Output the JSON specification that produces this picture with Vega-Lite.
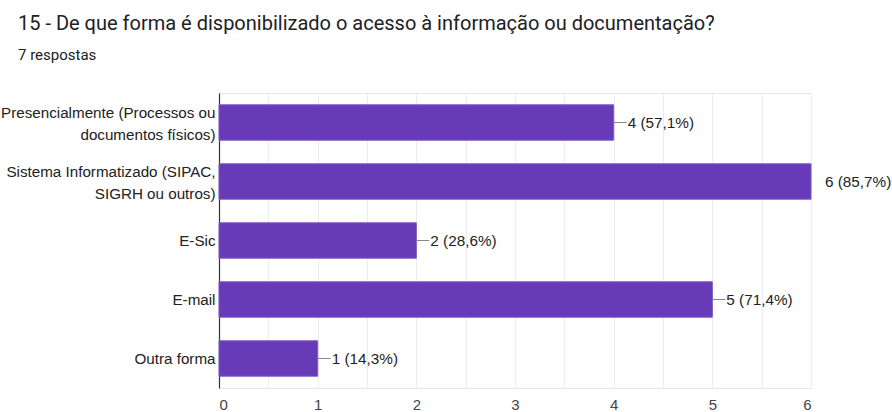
{
  "$schema": "https://vega.github.io/schema/vega-lite/v6.json",
  "autosize": {"type": "none"},
  "width": 592,
  "height": 295,
  "padding": {"left": 219, "top": 93, "right": 81, "bottom": 24},
  "background": "white",
  "title": {
    "text": "15 - De que forma é disponibilizado o acesso à informação ou documentação?",
    "subtitle": "7 respostas",
    "anchor": "start",
    "frame": "group",
    "dx": -201,
    "offset": 30,
    "font": "Roboto",
    "fontSize": 20,
    "fontWeight": "normal",
    "color": "#202124",
    "subtitleFont": "Roboto",
    "subtitleFontSize": 15,
    "subtitleColor": "#202124",
    "subtitlePadding": 14
  },
  "data": {
    "values": [
      {"option": "Presencialmente (Processos ou|documentos físicos)", "count": 4, "label": "4 (57,1%)", "leader": true},
      {"option": "Sistema Informatizado (SIPAC,|SIGRH ou outros)", "count": 6, "label": "6 (85,7%)", "leader": false},
      {"option": "E-Sic", "count": 2, "label": "2 (28,6%)", "leader": true},
      {"option": "E-mail", "count": 5, "label": "5 (71,4%)", "leader": true},
      {"option": "Outra forma", "count": 1, "label": "1 (14,3%)", "leader": true}
    ]
  },
  "config": {
    "view": {"stroke": "#e6e6e6", "strokeWidth": 1},
    "font": "Liberation Sans"
  },
  "encoding": {
    "y": {
      "field": "option",
      "type": "nominal",
      "sort": null,
      "scale": {"paddingInner": 0.4, "paddingOuter": 0.2},
      "axis": {
        "title": null,
        "labelExpr": "split(datum.label, '|')",
        "labelFont": "Liberation Sans",
        "labelFontSize": 15.2,
        "labelColor": "#222222",
        "labelLineHeight": 22,
        "labelLimit": 260,
        "labelPadding": 4,
        "labelOffset": {"condition": {"test": "indexof(datum.value, '|') >= 0", "value": -10}, "value": 0},
        "ticks": false,
        "domain": true,
        "domainColor": "#333333",
        "domainWidth": 1.2,
        "grid": false
      }
    }
  },
  "layer": [
    {
      "mark": {"type": "bar", "color": "#673ab7", "stroke": "#7e57c2", "strokeWidth": 1},
      "encoding": {
        "x": {
          "field": "count",
          "type": "quantitative",
          "scale": {"domain": [0, 6], "nice": false},
          "axis": {
            "title": null,
            "values": [0, 0.5, 1, 1.5, 2, 2.5, 3, 3.5, 4, 4.5, 5, 5.5, 6],
            "labelExpr": "datum.value % 1 === 0 ? format(datum.value, 'd') : ''",
            "labelFont": "Liberation Sans",
            "labelFontSize": 15,
            "labelColor": "#444444",
            "labelPadding": 9,
            "ticks": false,
            "domain": false,
            "grid": true,
            "gridColor": "#ececec",
            "gridWidth": 1
          }
        }
      }
    },
    {
      "transform": [{"filter": "datum.leader"}],
      "mark": {"type": "rule", "color": "#888888", "strokeWidth": 1, "x2Offset": 13},
      "encoding": {
        "x": {"field": "count", "type": "quantitative"},
        "x2": {"field": "count"}
      }
    },
    {
      "mark": {"type": "text", "align": "left", "baseline": "middle", "dx": 14, "fontSize": 15.3, "font": "Liberation Sans", "color": "#222222"},
      "encoding": {
        "x": {"field": "count", "type": "quantitative"},
        "text": {"field": "label"}
      }
    }
  ]
}
